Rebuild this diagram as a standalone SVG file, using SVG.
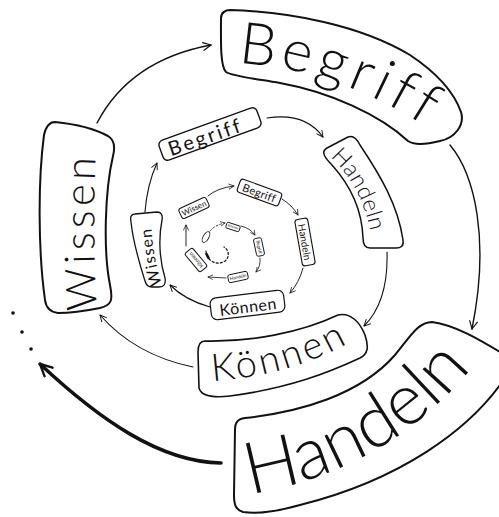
<svg xmlns="http://www.w3.org/2000/svg" width="499" height="517" viewBox="0 0 499 517">
<style>
.bx{fill:#fff;stroke:#111;stroke-linejoin:round}
.t{font-family:Lato,"Liberation Sans",sans-serif;font-weight:300;fill:#111}
.s{font-weight:400}
.c{fill:none;stroke:#111;stroke-linecap:round}
</style>
<defs>
<marker id="ah" viewBox="0 0 10 10" refX="9" refY="5" markerWidth="7" markerHeight="7" orient="auto" markerUnits="strokeWidth"><path d="M1,1 L9,5 L1,9" fill="none" stroke="#111" stroke-width="1.2" stroke-linecap="round" stroke-linejoin="round"/></marker>
<marker id="ah2" viewBox="0 0 10 10" refX="9" refY="5" markerWidth="4.2" markerHeight="4.2" orient="auto" markerUnits="strokeWidth"><path d="M1,1 L9,5 L1,9" fill="none" stroke="#111" stroke-width="1.6" stroke-linecap="round" stroke-linejoin="round"/></marker>
<path id="pBegA" d="M 238 63 Q 352 70 452 145"/>
<path id="pHanA" d="M 250 494 Q 392 470 478 360"/>
<path id="pWisA" d="M 97 310 Q 92 230 96 146"/>
<path id="pKonB" d="M 212 381 Q 290 376 350 342"/>
<path id="pHanB" d="M 330 157 Q 362 185 372 238"/>
<path id="pWisB" d="M 162 284 Q 153 258 151 222"/>
</defs>

<g id="connectors">
<path class="c" stroke-width="1.4" marker-end="url(#ah)" d="M 97 123 Q 130 60 211 45"/>
<path class="c" stroke-width="1.4" marker-end="url(#ah)" d="M 450 145 C 475 175, 490 240, 472 329"/>
<path class="c" stroke-width="3.5" marker-end="url(#ah2)" d="M 221 463 C 160 462, 100 420, 40 364"/>
<path class="c" stroke-width="1.1" marker-end="url(#ah)" d="M 193 367 Q 135 355 100 315"/>
<path class="c" stroke-width="1.1" marker-end="url(#ah)" d="M 387 252 C 388 285, 380 310, 364 326"/>
<path class="c" stroke-width="1.1" marker-end="url(#ah)" d="M 267 118 Q 305 112 323 137"/>
<path class="c" stroke-width="1.1" marker-end="url(#ah)" d="M 145 212 Q 147 185 157 163"/>
<path class="c" stroke-width="1.1" marker-end="url(#ah)" d="M 210 307 Q 185 300 170 285"/>
<path class="c" stroke-width="0.9" marker-end="url(#ah)" d="M 208 196 Q 217 188 234 186"/>
<path class="c" stroke-width="0.9" marker-end="url(#ah)" d="M 282 199 Q 292 205 298 215"/>
<path class="c" stroke-width="0.9" marker-end="url(#ah)" d="M 303 268 Q 299 283 290 293"/>
<path class="c" stroke-width="0.9" marker-end="url(#ah)" d="M 186 246 L 186 225"/>
<path class="c" stroke-width="0.8" marker-end="url(#ah)" d="M 226 278 L 208 277"/>
<path class="c" stroke-width="0.8" marker-end="url(#ah)" d="M 260 258 Q 261 266 256 272"/>
<path class="c" stroke-width="0.8" marker-end="url(#ah)" d="M 241 226 Q 250 228 255 235"/>
<path class="c" stroke-width="0.8" stroke-dasharray="2 2" marker-end="url(#ah)" d="M 210 231 Q 215 225 225 223"/>
<path class="c" stroke-width="1.2" stroke-dasharray="2 2.2" d="M 206 251 C 207 262, 218 266, 225 261 C 230 257, 229 250, 224 247"/>
<path class="c" stroke-width="2.6" d="M 206.5 254 L 208.5 258"/>
<circle cx="13" cy="313" r="1.8" fill="#111"/>
<circle cx="22" cy="332" r="1.8" fill="#111"/>
<circle cx="31" cy="349" r="1.8" fill="#111"/>
</g>

<g id="begriff-outer">
<path class="bx" stroke-width="2" d="M 230 10 C 290 12, 360 25, 410 55 C 440 75, 455 95, 461 112 C 465 125, 455 138, 440 141 C 428 144, 415 146, 408 141 C 380 115, 330 92, 280 83 C 250 78, 232 76, 226 72 C 220 66, 221 40, 221 18 C 221 13, 225 10, 230 10 Z"/>
<text class="t" font-size="58" letter-spacing="5"><textPath href="#pBegA">Begriff</textPath></text>
</g>

<g id="handeln-outer">
<path class="bx" stroke-width="2" d="M 245 418 C 300 412, 360 395, 395 355 C 410 337, 418 322, 432 322 C 455 325, 480 340, 500 352 L 505 360 L 505 378 C 470 430, 400 480, 300 505 C 275 512, 255 514, 243 512 C 236 510, 234 505, 234 495 L 235 430 C 235 422, 238 419, 245 418 Z"/>
<text class="t" font-size="72"><textPath href="#pHanA">Handeln</textPath></text>
</g>

<g id="wissen-outer">
<path class="bx" stroke-width="2" d="M 55 122 C 75 124, 95 129, 108 136 C 115 140, 115 148, 113 156 C 105 190, 103 250, 110 285 C 113 300, 112 305, 100 308 C 85 311, 70 313, 58 313 C 50 312, 46 308, 45 300 C 38 250, 38 180, 44 135 C 46 126, 50 122, 55 122 Z"/>
<text class="t" font-size="42" letter-spacing="4"><textPath href="#pWisA">Wissen</textPath></text>
</g>

<g id="koennen-2">
<path class="bx" stroke-width="1.6" d="M 205 341 C 250 342, 300 333, 338 315 C 350 312, 360 322, 365 335 C 369 347, 368 354, 360 358 C 330 372, 290 388, 230 396 C 212 398, 201 396, 199 388 L 198 352 C 198 345, 200 341, 205 341 Z"/>
<text class="t" font-size="38" letter-spacing="3"><textPath href="#pKonB">Können</textPath></text>
</g>

<g id="handeln-2">
<path class="bx" stroke-width="1.5" d="M 327 148 L 348 137 C 353 135, 357 139, 360 145 C 380 175, 398 205, 403 240 C 404 246, 401 248, 396 248 L 370 248 C 365 248, 363 244, 363 238 C 362 210, 350 185, 332 165 C 322 155, 322 151, 327 148 Z"/>
<text class="t" font-size="23" letter-spacing="0.5"><textPath href="#pHanB">Handeln</textPath></text>
</g>

<g id="begriff-2">
<rect class="bx" stroke-width="1.4" x="-52" y="-10.5" width="104" height="21" rx="5" transform="translate(210 134) rotate(-20)"/>
<text class="t s" font-size="20" letter-spacing="2.5" text-anchor="middle" dominant-baseline="central" transform="translate(205 136) rotate(-19)">Begriff</text>
</g>

<g id="wissen-2">
<path class="bx" stroke-width="1.3" d="M 135 214 L 157 212 C 161 212, 163 215, 162 220 C 158 240, 160 262, 165 278 C 166 284, 164 287, 159 287 L 152 287 C 148 287, 146 285, 145 281 C 139 262, 133 242, 131 222 C 130 217, 131 214, 135 214 Z"/>
<text class="t s" font-size="16" letter-spacing="1"><textPath href="#pWisB">Wissen</textPath></text>
</g>

<g id="koennen-3">
<rect class="bx" stroke-width="1.2" x="-37" y="-11" width="74" height="22" rx="6" transform="translate(247.5 305) rotate(-7)"/>
<text class="t s" font-size="16" letter-spacing="0.5" text-anchor="middle" dominant-baseline="central" transform="translate(248 306) rotate(-7)">Können</text>
</g>

<g id="handeln-3">
<rect class="bx" stroke-width="1.1" x="-23.5" y="-6.5" width="47" height="13" rx="3" transform="translate(305 242) rotate(80)"/>
<text class="t s" font-size="10" text-anchor="middle" dominant-baseline="central" transform="translate(305 242) rotate(80)">Handeln</text>
</g>

<g id="begriff-3">
<rect class="bx" stroke-width="1.1" x="-22" y="-7" width="44" height="14" rx="3" transform="translate(259.5 192.5) rotate(20)"/>
<text class="t s" font-size="11" letter-spacing="0.3" text-anchor="middle" dominant-baseline="central" transform="translate(259.5 192.5) rotate(20)">Begriff</text>
</g>

<g id="wissen-3">
<rect class="bx" stroke-width="1" x="-15" y="-5.5" width="30" height="11" rx="2.5" transform="translate(194 208) rotate(-25)"/>
<text class="t s" font-size="8" text-anchor="middle" dominant-baseline="central" transform="translate(194 208) rotate(-25)">Wissen</text>
</g>

<g id="koennen-4">
<rect class="bx" stroke-width="1" x="-12" y="-5" width="24" height="10" rx="2" transform="translate(196 260) rotate(-130)"/>
<text class="t s" font-size="5.5" text-anchor="middle" dominant-baseline="central" transform="translate(196 260) rotate(-130)">Können</text>
</g>

<g id="handeln-4">
<rect class="bx" stroke-width="0.9" x="-10" y="-4" width="20" height="8" rx="2" transform="translate(238 277) rotate(-12)"/>
<text class="t s" font-size="4.5" text-anchor="middle" dominant-baseline="central" transform="translate(238 277) rotate(-12)">Handeln</text>
</g>

<g id="begriff-4">
<rect class="bx" stroke-width="0.9" x="-9" y="-4" width="18" height="8" rx="2" transform="translate(259 247) rotate(78)"/>
<text class="t s" font-size="4.5" text-anchor="middle" dominant-baseline="central" transform="translate(259 247) rotate(78)">Begriff</text>
</g>

<g id="wissen-4">
<rect class="bx" stroke-width="0.9" x="-7" y="-3" width="14" height="6" rx="1.5" transform="translate(233 227) rotate(18)"/>
<text class="t s" font-size="3.5" text-anchor="middle" dominant-baseline="central" transform="translate(233 227) rotate(18)">Wissen</text>
</g>

<g id="koennen-5">
<ellipse class="bx" stroke-width="0.9" cx="0" cy="0" rx="6" ry="2.8" transform="translate(206 237) rotate(-60)"/>
</g>
</svg>
